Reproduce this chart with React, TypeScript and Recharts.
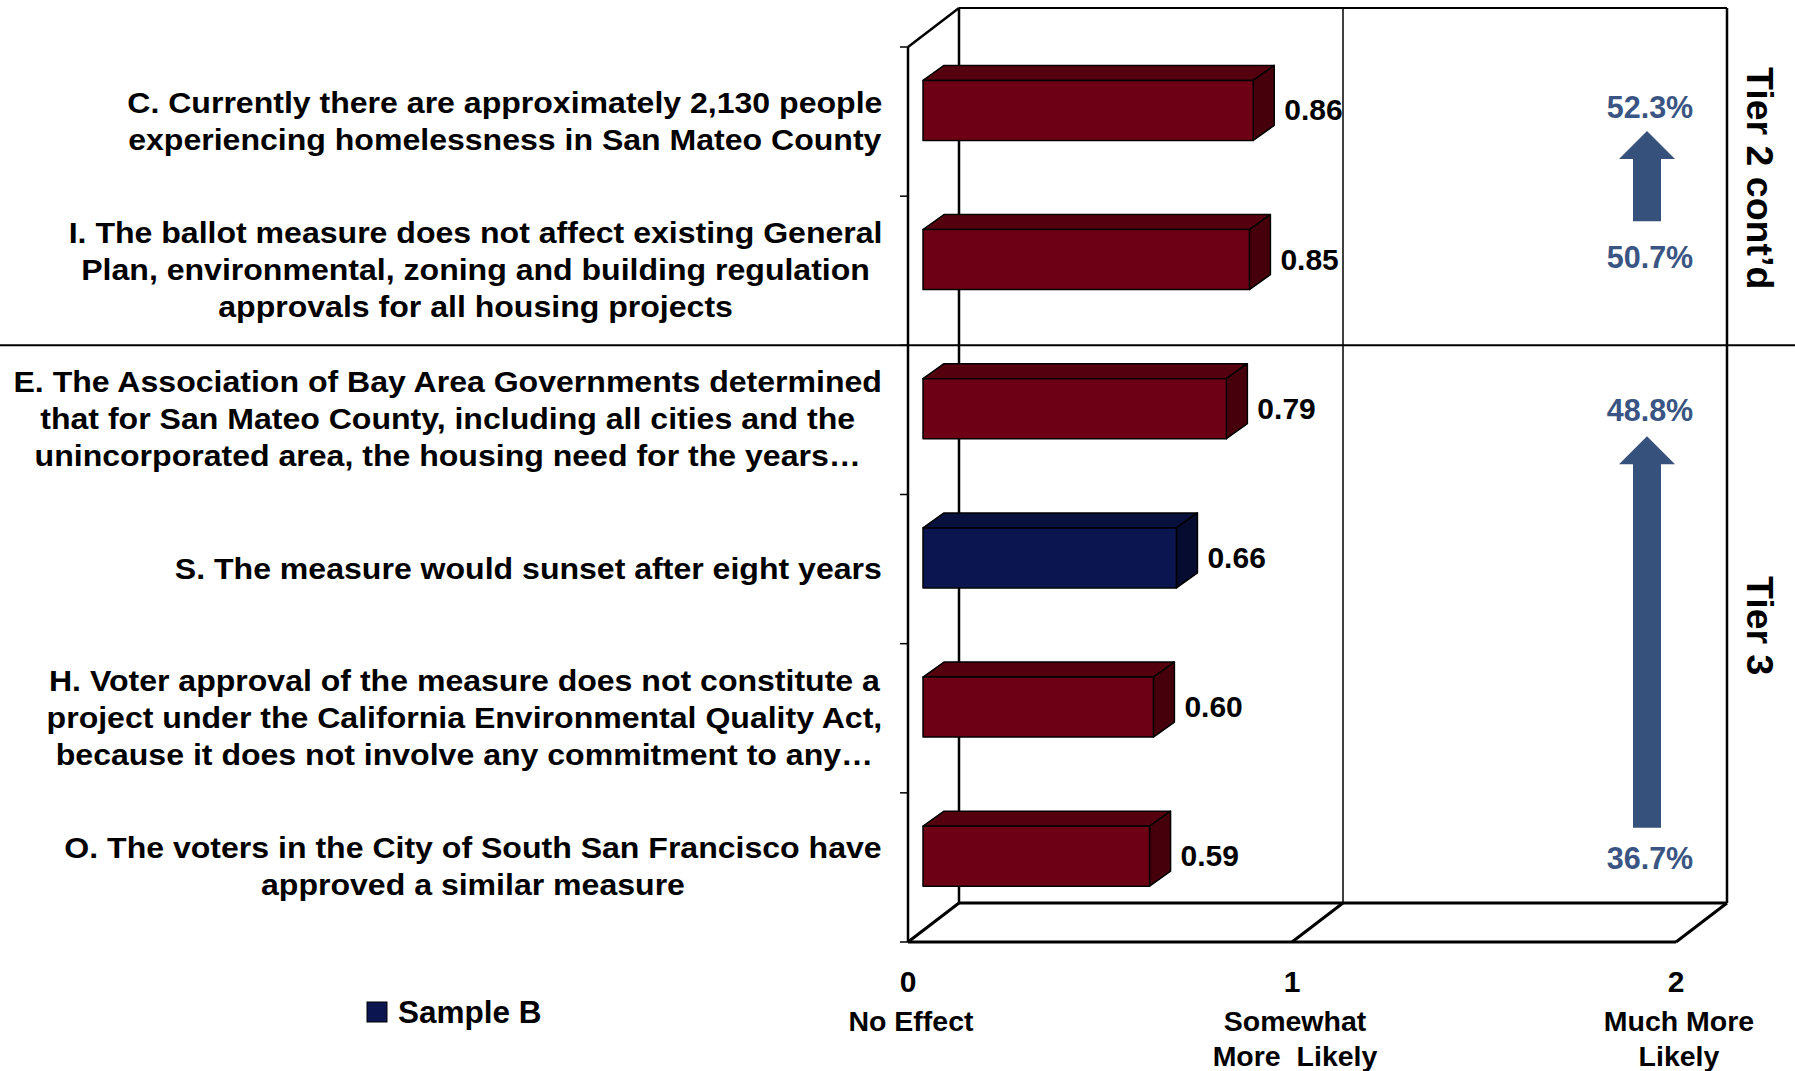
import React from "react";
import { BarChart, Bar, XAxis, YAxis, LabelList } from "recharts";

// statements, top to bottom as drawn
const statements = [
  "C. Currently there are approximately 2,130 people\nexperiencing homelessness in San Mateo County",
  "I. The ballot measure does not affect existing General\nPlan, environmental, zoning and building regulation\napprovals for all housing projects",
  "E. The Association of Bay Area Governments determined\nthat for San Mateo County, including all cities and the\nunincorporated area, the housing need for the years…",
  "S. The measure would sunset after eight years",
  "H. Voter approval of the measure does not constitute a\nproject under the California Environmental Quality Act,\nbecause it does not involve any commitment to any…",
  "O. The voters in the City of South San Francisco have\napproved a similar measure",
];
const meanScores = [0.86, 0.85, 0.79, 0.66, 0.6, 0.59];
const samples = ["A", "A", "A", "B", "A", "A"];

const xTicks = [0, 1, 2];
const xTickLabels = ["No Effect", "Somewhat\nMore  Likely", "Much More\nLikely"];

const tierNames = ["Tier 2 cont’d", "Tier 3"];
const tierRows = [
  [0, 1],
  [2, 5],
];
const tierPcts = [
  ["52.3%", "50.7%"],
  ["48.8%", "36.7%"],
];
const legendLabel = "Sample B";

const W = 1795;
const H = 1071;
const LEFT = 908;
const TOP = 47;
const RIGHT = 1676;
const BOTTOM = 942;
const DEPTH_X = 51;
const DEPTH_Y = -39;
const FACE_DX = 15;
const FACE_DY = -11.6;
const BAR_DX = 21;
const BAR_DY = -15;
const FONT = '"Liberation Sans", Arial, sans-serif';
const ARROW = "#36517b";
const PCT = "#3a5583";

const colors: Record<string, { front: string; top: string; side: string }> = {
  A: { front: "#6e0016", top: "#55000f", side: "#45000c" },
  B: { front: "#0b1650", top: "#08103d", side: "#060c30" },
};

const data = statements.map((label, i) => ({
  label,
  value: meanScores[i],
  sample: samples[i],
}));

const band = (BOTTOM - TOP) / statements.length;
const rowCenter = (i: number) => TOP + (i + 0.5) * band + FACE_DY;
const xAt = (v: number) => LEFT + (v / 2) * (RIGHT - LEFT);

function Bar3D(props: any) {
  const { x, y, width, height, payload } = props;
  const c = colors[payload.sample];
  const fx = x + FACE_DX;
  const fy = y + FACE_DY;
  return (
    <g stroke="#000" strokeWidth={1.5} strokeLinejoin="round">
      <polygon
        points={`${fx},${fy} ${fx + BAR_DX},${fy + BAR_DY} ${fx + width + BAR_DX},${fy + BAR_DY} ${fx + width},${fy}`}
        fill={c.top}
      />
      <polygon
        points={`${fx + width},${fy} ${fx + width + BAR_DX},${fy + BAR_DY} ${fx + width + BAR_DX},${fy + height + BAR_DY} ${fx + width},${fy + height}`}
        fill={c.side}
      />
      <rect x={fx} y={fy} width={width} height={height} fill={c.front} />
    </g>
  );
}

function ValueLabel(props: any) {
  const { x, y, width, height, value } = props;
  return (
    <text
      x={x + width + FACE_DX + BAR_DX + 10}
      y={y + height / 2 + FACE_DY + 10}
      fontFamily={FONT}
      fontWeight="bold"
      fontSize={30}
      fill="#000"
    >
      {Number(value).toFixed(2)}
    </text>
  );
}

function StatementTick(props: any) {
  const { y, payload } = props;
  return (
    <foreignObject x={0} y={y - 90} width={882} height={180}>
      <div
        style={{
          width: 882,
          height: 180,
          display: "flex",
          alignItems: "center",
          justifyContent: "flex-end",
        }}
      >
        <div
          style={{
            textAlign: "center",
            fontFamily: FONT,
            fontWeight: "bold",
            fontSize: 29,
            lineHeight: "37px",
            whiteSpace: "pre",
            color: "#000",
            transform: "scaleX(1.105)",
            transformOrigin: "right center",
          }}
        >
          {payload.value}
        </div>
      </div>
    </foreignObject>
  );
}

function ScaleTick(props: any) {
  const { x, payload } = props;
  const idx = xTicks.indexOf(payload.value);
  const lines = (xTickLabels[idx] || "").split("\n");
  return (
    <g fontFamily={FONT} fontWeight="bold" fill="#000" textAnchor="middle">
      <text x={x} y={BOTTOM + 50} fontSize={30}>
        {payload.value}
      </text>
      {lines.map((l, i) => (
        <text key={i} x={x + 3} y={BOTTOM + 89 + i * 35} fontSize={28.5} style={{ whiteSpace: "pre" }}>
          {l}
        </text>
      ))}
    </g>
  );
}

function Frame() {
  const bx0 = LEFT + DEPTH_X;
  const bx1 = RIGHT + DEPTH_X;
  const by0 = TOP + DEPTH_Y;
  const by1 = BOTTOM + DEPTH_Y;
  return (
    <svg width={W} height={H} style={{ position: "absolute", left: 0, top: 0 }}>
      <g stroke="#000" fill="none">
        <line x1={bx0} y1={by0} x2={bx1} y2={by0} strokeWidth={2} />
        <line x1={bx0} y1={by0} x2={bx0} y2={by1} strokeWidth={2.5} />
        <line x1={bx1} y1={by0} x2={bx1} y2={by1} strokeWidth={2.5} />
        <line x1={LEFT} y1={TOP} x2={bx0} y2={by0} strokeWidth={2.5} />
        <line x1={bx0} y1={by1} x2={bx1} y2={by1} strokeWidth={3} />
        {xTicks.map((t) => (
          <line key={t} x1={xAt(t)} y1={BOTTOM} x2={xAt(t) + DEPTH_X} y2={by1} strokeWidth={3} />
        ))}
        {xTicks.slice(1, -1).map((t) => (
          <line key={"g" + t} x1={xAt(t) + DEPTH_X} y1={by0} x2={xAt(t) + DEPTH_X} y2={by1} strokeWidth={1.5} />
        ))}
        {statements.concat([""]).map((_, i) => (
          <line key={"t" + i} x1={LEFT - 8} y1={TOP + i * band} x2={LEFT} y2={TOP + i * band} strokeWidth={1.5} />
        ))}
        <line x1={0} y1={TOP + 2 * band} x2={W} y2={TOP + 2 * band} strokeWidth={2} />
      </g>
    </svg>
  );
}

// per-tier nudges of the annotation text and arrow ends
const pctTopDy = [8, 13];
const pctBotDy = [9, 13];
const arrowTipPad = [21, 28];
const arrowBasePad = [38, 28];

function Annotations() {
  const cx = 1647;
  return (
    <svg width={W} height={H} style={{ position: "absolute", left: 0, top: 0 }}>
      {tierNames.map((name, t) => {
        const [r0, r1] = tierRows[t];
        const yTop = rowCenter(r0);
        const yBot = rowCenter(r1);
        const tip = yTop + arrowTipPad[t];
        const base = yBot - arrowBasePad[t];
        const midY = (TOP + r0 * band + TOP + (r1 + 1) * band) / 2 - 18;
        return (
          <g key={name}>
            <text x={cx + 3} y={yTop + pctTopDy[t]} textAnchor="middle" fontFamily={FONT} fontWeight="bold" fontSize={30.5} fill={PCT}>
              {tierPcts[t][0]}
            </text>
            <text x={cx + 3} y={yBot + pctBotDy[t]} textAnchor="middle" fontFamily={FONT} fontWeight="bold" fontSize={30.5} fill={PCT}>
              {tierPcts[t][1]}
            </text>
            <polygon
              points={`${cx},${tip} ${cx + 28},${tip + 28} ${cx + 14},${tip + 28} ${cx + 14},${base} ${cx - 14},${base} ${cx - 14},${tip + 28} ${cx - 28},${tip + 28}`}
              fill={ARROW}
            />
            <text
              x={1760}
              y={midY}
              transform={`rotate(90 1760 ${midY})`}
              textAnchor="middle"
              dominantBaseline="central"
              fontFamily={FONT}
              fontWeight="bold"
              fontSize={37.5}
              fill="#000"
            >
              {name}
            </text>
          </g>
        );
      })}
      <rect x={367} y={1002} width={20} height={20} fill={colors.B.front} stroke="#000" strokeWidth={1} />
      <text x={398} y={1023} fontFamily={FONT} fontWeight="bold" fontSize={31.5} fill="#000">
        {legendLabel}
      </text>
    </svg>
  );
}

export default function App() {
  return (
    <div style={{ position: "absolute", left: 0, top: 0, width: W, height: H, background: "#fff" }}>
      <Frame />
      <div style={{ position: "absolute", left: 0, top: 0 }}>
        <BarChart
          width={W}
          height={H}
          data={data}
          layout="vertical"
          margin={{ top: TOP, right: W - RIGHT, bottom: 0, left: 0 }}
        >
          <XAxis
            type="number"
            domain={[0, 2]}
            ticks={xTicks}
            interval={0}
            height={H - BOTTOM}
            axisLine={{ stroke: "#000", strokeWidth: 3 }}
            tickLine={false}
            tickSize={0}
            tick={<ScaleTick />}
          />
          <YAxis
            type="category"
            dataKey="label"
            width={LEFT}
            interval={0}
            axisLine={{ stroke: "#000", strokeWidth: 2.5 }}
            tickLine={false}
            tick={<StatementTick />}
          />
          <Bar dataKey="value" barSize={60} shape={<Bar3D />} isAnimationActive={false}>
            <LabelList dataKey="value" content={<ValueLabel />} />
          </Bar>
        </BarChart>
      </div>
      <Annotations />
    </div>
  );
}
